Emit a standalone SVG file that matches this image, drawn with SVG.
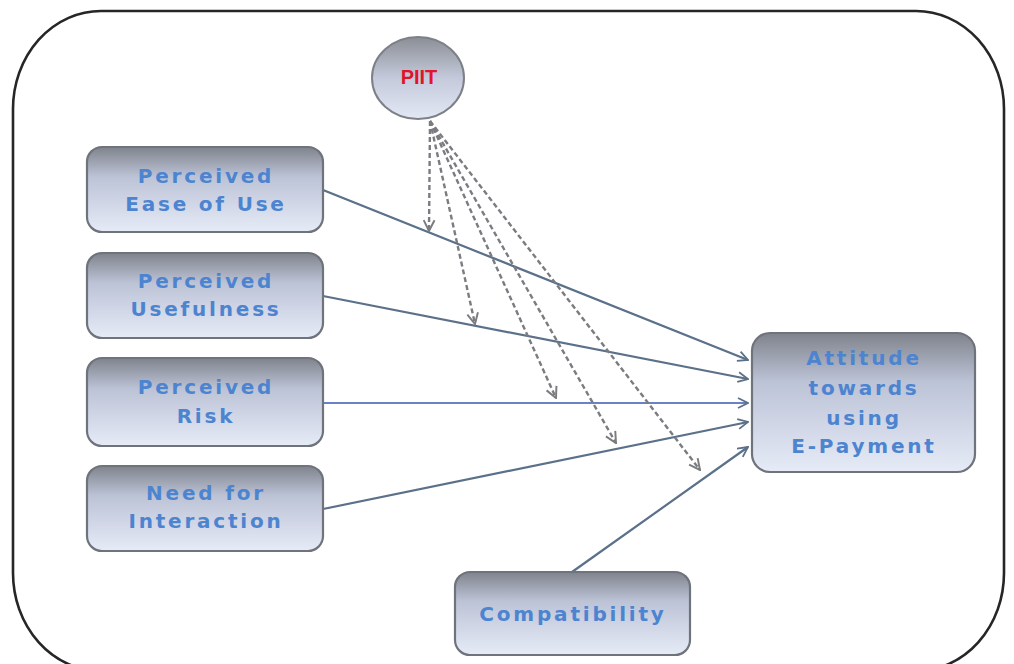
<svg xmlns="http://www.w3.org/2000/svg" width="1014" height="664" viewBox="0 0 1014 664">
<style>
.box{stroke:#6f737b;stroke-width:2.2;fill:url(#boxg)}
.lbl{font-family:"DejaVu Sans","Liberation Sans",sans-serif;font-weight:bold;font-size:20px;fill:#4c84d0;letter-spacing:2.8px;text-anchor:middle}
.solid{stroke:#5b7089;stroke-width:2.2;fill:none;marker-end:url(#arrS)}
.dash{stroke:#7a7c80;stroke-width:2.4;fill:none;stroke-dasharray:5 3;marker-end:url(#arrD)}
</style>
<defs>
<linearGradient id="boxg" x1="0" y1="0" x2="0" y2="1">
<stop offset="0" stop-color="#7f838c"/>
<stop offset="0.35" stop-color="#bcc3d6"/>
<stop offset="1" stop-color="#e6ebf7"/>
</linearGradient>
<linearGradient id="ellg" x1="0" y1="0" x2="0" y2="1">
<stop offset="0" stop-color="#8b8e95"/>
<stop offset="0.5" stop-color="#c4cadb"/>
<stop offset="1" stop-color="#e3e8f5"/>
</linearGradient>
<marker id="arrS" viewBox="0 0 12 12" refX="11" refY="6" markerWidth="12" markerHeight="12" markerUnits="userSpaceOnUse" orient="auto">
<path d="M1,1 L11,6 L1,11" fill="none" stroke="#5b7089" stroke-width="1.8"/>
</marker>
<marker id="arrD" viewBox="0 0 12 12" refX="11" refY="6" markerWidth="13" markerHeight="13" markerUnits="userSpaceOnUse" orient="auto">
<path d="M1,1 L11,6 L1,11" fill="none" stroke="#7a7c80" stroke-width="1.8"/>
</marker>
</defs>
<rect width="1014" height="664" fill="#ffffff"/>
<rect id="frame" x="13" y="11" width="991" height="660" rx="88" ry="98" fill="none" stroke="#262626" stroke-width="2.6"/>
<g id="connectors">
<line class="solid" x1="323" y1="190" x2="748" y2="360"/>
<line class="solid" x1="323" y1="296" x2="748" y2="379"/>
<line class="solid" x1="323" y1="403" x2="748" y2="403" style="stroke:#6b80c6"/>
<line class="solid" x1="323" y1="509" x2="748" y2="422"/>
<line class="solid" x1="572" y1="572" x2="748" y2="447"/>
<line class="dash" x1="430" y1="121" x2="429" y2="231"/>
<line class="dash" x1="430" y1="121" x2="475" y2="324"/>
<line class="dash" x1="430" y1="121" x2="556" y2="398"/>
<line class="dash" x1="430" y1="121" x2="616" y2="443"/>
<line class="dash" x1="430" y1="121" x2="700" y2="470"/>
</g>
<g id="piit">
<ellipse cx="418" cy="78" rx="46" ry="41" fill="url(#ellg)" stroke="#7d8087" stroke-width="2"/>
<text x="419" y="84" style="font-family:'Liberation Sans',Arial,sans-serif;font-weight:bold;font-size:20px;fill:#e0142a;text-anchor:middle">PIIT</text>
</g>
<g id="peou">
<rect class="box" x="87" y="147" width="236" height="85" rx="15"/>
<text class="lbl" x="206" y="183">Perceived</text>
<text class="lbl" x="206" y="211">Ease of Use</text>
</g>
<g id="pu">
<rect class="box" x="87" y="253" width="236" height="85" rx="15"/>
<text class="lbl" x="206" y="288">Perceived</text>
<text class="lbl" x="206" y="316">Usefulness</text>
</g>
<g id="pr">
<rect class="box" x="87" y="358" width="236" height="88" rx="15"/>
<text class="lbl" x="206" y="394">Perceived</text>
<text class="lbl" x="206" y="423">Risk</text>
</g>
<g id="nfi">
<rect class="box" x="87" y="466" width="236" height="85" rx="15"/>
<text class="lbl" x="206" y="500">Need for</text>
<text class="lbl" x="206" y="528">Interaction</text>
</g>
<g id="attitude">
<rect class="box" x="752" y="333" width="223" height="139" rx="18"/>
<text class="lbl" x="864" y="365">Attitude</text>
<text class="lbl" x="864" y="395">towards</text>
<text class="lbl" x="864" y="425">using</text>
<text class="lbl" x="864" y="453">E-Payment</text>
</g>
<g id="compat">
<rect class="box" x="455" y="572" width="235" height="83" rx="15"/>
<text class="lbl" x="573" y="621">Compatibility</text>
</g>
</svg>
